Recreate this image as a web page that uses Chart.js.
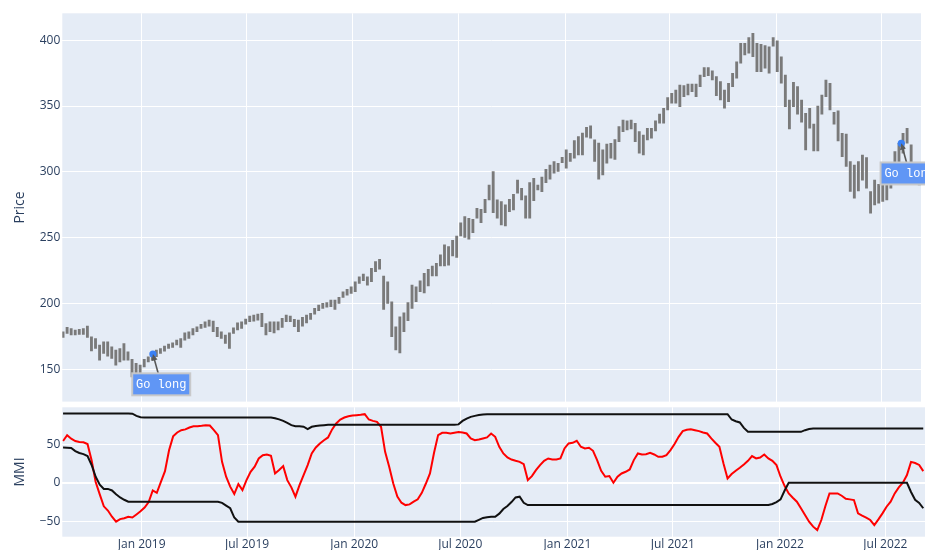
<!DOCTYPE html>
<html><head><meta charset="utf-8">
<script src="https://cdn.jsdelivr.net/npm/chart.js@4.4.1/dist/chart.umd.min.js"></script>
<style>
html,body{margin:0;padding:0;background:#fff;}
#wrap{position:relative;width:925px;height:550px;overflow:hidden;}
canvas{position:absolute;left:0;top:0;}
</style></head><body>
<div id="wrap"><canvas id="topc" width="925" height="550"></canvas><canvas id="botc" width="925" height="550"></canvas></div>
<script>
// ---------------- data ----------------
const firstWeek = '2018-08-19';          // first weekly bar, one bar per week after it
const xRange = ['2018-08-18', '2022-09-07'];
const tickDates = ['2019-01-01','2019-07-01','2020-01-01','2020-07-01','2021-01-01','2021-07-01','2022-01-01','2022-07-01'];
const tickLabels = ['Jan 2019','Jul 2019','Jan 2020','Jul 2020','Jan 2021','Jul 2021','Jan 2022','Jul 2022'];
const priceTicks = [150,200,250,300,350,400];
const mmiTicks = [-50,0,50];

const priceHigh = [
178.4,181.7,180.9,179.7,180.2,180.9,182.7,174.6,173.3,168.3,
170.8,170.8,167.0,164.5,165.7,169.5,163.1,157.4,154.3,153.0,
157.4,159.4,161.9,164.5,165.7,167.5,169.0,170.0,172.0,173.3,
177.6,178.4,180.9,182.2,184.0,186.0,187.3,186.5,181.7,178.4,
175.9,177.6,181.4,185.2,186.0,188.0,190.3,191.0,191.8,192.4,
184.7,186.0,186.0,186.0,188.6,191.0,190.3,187.8,187.3,189.3,
191.0,192.4,196.2,198.7,200.0,200.5,202.5,202.5,204.5,208.8,
210.6,212.6,216.4,220.2,222.3,220.2,226.6,231.7,233.5,220.8,
216.4,201.2,182.2,189.8,192.8,200.5,213.9,212.6,217.2,222.8,
225.9,228.4,230.4,236.8,244.4,243.1,247.9,251.2,261.3,266.0,
264.7,263.9,272.3,271.5,279.1,290.0,300.2,278.6,277.3,274.8,
279.1,282.9,293.8,287.5,281.7,291.8,295.1,290.0,295.9,301.9,
305.2,307.8,306.5,311.0,316.7,314.1,323.7,326.8,329.4,333.9,
334.9,324.3,321.8,316.7,321.0,321.7,324.5,334.3,339.4,338.7,
339.4,336.9,330.5,328.0,333.1,333.1,338.7,343.8,348.3,356.4,
359.7,362.2,366.0,365.5,366.6,366.6,366.6,373.6,379.2,379.2,
376.7,372.3,368.5,362.2,367.3,374.9,383.7,397.7,397.7,402.0,
405.3,397.7,397.0,395.9,395.1,402.0,399.5,387.5,373.6,354.6,
368.0,364.7,354.6,344.5,348.3,336.2,350.0,358.4,369.8,367.3,
345.3,346.3,329.3,328.6,307.7,305.2,307.7,312.8,310.8,285.0,
293.8,290.5,292.5,297.6,306.6,315.4,321.7,329.3,333.1,320.5,
306.0,300.0];
const priceLow = [
174.1,177.1,175.9,175.9,176.4,176.4,174.1,163.9,165.7,156.8,
161.9,159.9,158.1,153.0,155.5,156.8,156.8,144.1,143.0,146.0,
151.7,155.5,156.8,159.4,161.9,163.7,165.7,166.5,168.3,166.5,
172.0,173.3,175.9,178.4,181.0,181.7,182.7,178.4,174.6,173.3,
169.5,165.7,177.1,179.7,181.0,184.2,186.0,186.5,187.3,182.2,
175.9,178.4,177.6,179.7,181.7,186.0,186.0,182.2,178.4,182.7,
185.2,187.8,191.8,194.4,196.2,197.0,197.4,195.4,200.0,204.5,
206.3,207.6,208.8,215.2,217.2,213.9,216.4,224.0,225.9,195.4,
200.0,174.6,164.5,162.4,178.4,186.8,196.2,201.2,208.8,208.0,
213.2,220.8,220.8,228.4,228.4,229.1,236.0,235.0,251.2,250.2,
248.7,253.8,264.7,261.3,268.9,278.6,268.9,264.7,259.6,258.8,
269.7,271.0,283.7,278.6,264.7,264.7,278.1,286.2,284.9,291.8,
294.4,298.9,300.2,307.0,302.7,307.8,310.3,312.9,312.9,326.3,
325.6,307.8,294.4,297.6,306.5,310.3,309.5,323.0,330.5,331.8,
332.6,323.0,314.1,312.8,324.2,325.5,331.1,336.9,336.9,347.0,
352.1,352.1,349.5,357.1,358.4,361.0,357.1,364.7,372.3,373.1,
369.8,357.9,354.6,348.3,353.3,364.7,371.1,382.5,388.8,390.1,
387.5,376.1,376.1,378.7,375.0,395.5,376.1,367.3,349.5,332.6,
349.5,343.8,337.7,316.6,333.1,315.9,315.9,343.8,357.1,347.0,
336.2,323.5,311.5,304.0,285.0,280.0,285.5,293.6,287.6,268.5,
274.9,276.1,277.4,278.7,287.6,296.4,307.7,314.1,321.7,307.7,
296.0,290.0];

const mmi = [
54,61.5,57,54,52.8,52.3,50,29,1,-15,
-30.5,-36,-44,-50.4,-47,-46,-44,-45,-41,-37,
-32,-25,-10,-13,1,15,42,60,65,68,
69,71.5,73,73,73.6,74.5,74,68,61.6,27,
7.8,-5,-14.6,-1.7,-9.5,3.4,14.2,20.7,31.4,35.7,
36.6,35,12,16.4,21.5,3.4,-6,-18,-3,10,
22.8,38,45.6,50.8,55,58.6,69,76.7,81.8,84.4,
86,87,87.4,87.9,88.7,81.8,80,78.8,72.4,40,
20.7,-1,-18,-25.8,-28.9,-28,-24.5,-21.5,-13,-1,
12,38.8,61.6,64.6,64.6,63.7,64.6,65.5,65,63.7,
57.3,55,56,57.3,58.6,63.7,59.4,46.5,37.9,32.7,
30,28.4,27,24,3.4,8.6,16.4,22.8,28.4,31.4,
30,30,31.4,44.4,50.8,51.7,54.3,46.5,44.4,45.2,
41.3,29.3,15.5,7.8,8.6,0,7.8,12,14.2,17.2,
29.3,37.9,36.6,37,38.8,36.6,33.6,33.6,35.7,42.2,
50,59.4,66.8,68.5,69.3,68,66.8,65,63.7,57.3,
51.7,46.5,25,5.6,11.2,15.5,19.4,23.7,28.4,34.5,
31.4,32.7,36.6,31.4,28.4,22.8,7.8,-4.3,-13.8,-19.4,
-24.5,-33,-41.8,-50.4,-56.8,-61.2,-48.2,-30,-13.8,-13.8,
-13.8,-16.8,-20.7,-21.5,-22.4,-39.6,-42.6,-45.2,-48.2,-54.7,
-47.4,-39.6,-31,-24.5,-13.8,-6,0,9.9,27,25.5,
23,15];
const upperBand = [
89.5,89.5,89.5,89.5,89.5,89.5,89.5,89.5,89.5,89.5,
89.5,89.5,89.5,89.5,89.5,89.5,89.5,89.3,86.5,84.8,
84.4,84.4,84.4,84.4,84.4,84.4,84.4,84.4,84.4,84.4,
84.4,84.4,84.4,84.4,84.4,84.4,84.4,84.4,84.4,84.4,
84.4,84.4,84.4,84.4,84.4,84.4,84.4,84.4,84.4,84.4,
84.4,84.4,83.5,82,80,77.5,74.5,73.2,73.2,72.5,
69.5,72.4,73.4,74,74.5,75,75,75,75,75,
75,75,75,75,75,75,75,75,75,75,
75,75,75,75,75,75,75,75,75,75,
75,75,75,75,75,75,75,75.5,80,83,
85.2,86.5,87.5,88.4,88.7,88.7,88.7,88.7,88.7,88.7,
88.7,88.7,88.7,88.7,88.7,88.7,88.7,88.7,88.7,88.7,
88.7,88.7,88.7,88.7,88.7,88.7,88.7,88.7,88.7,88.7,
88.7,88.7,88.7,88.7,88.7,88.7,88.7,88.7,88.7,88.7,
88.7,88.7,88.7,88.7,88.7,88.7,88.7,88.7,88.7,88.7,
88.7,88.7,88.7,88.7,88.7,88.7,88.7,88.7,88.7,88.7,
88.7,88.7,88.7,88.7,81.8,79.5,78,71,65.9,65.9,
65.9,65.9,65.9,65.9,65.9,65.9,65.9,65.9,65.9,65.9,
65.9,65.9,68,69.5,70.2,70.2,70.2,70.2,70.2,70.2,
70.2,70.2,70.2,70.2,70.2,70.2,70.2,70.2,70.2,70.2,
70.2,70.2,70.2,70.2,70.2,70.2,70.2,70.2,70.2,70.2,
70.2,70.2];
const lowerBand = [
45.5,45.4,45,41,38.5,37,34.5,23,7.8,-2.5,
-8,-8,-10,-15,-19,-22,-24.5,-24.5,-24.5,-24.5,
-24.5,-24.5,-24.5,-24.5,-24.5,-24.5,-24.5,-24.5,-24.5,-24.5,
-24.5,-24.5,-24.5,-24.5,-24.5,-24.5,-24.5,-24.5,-24.5,-26,
-29.5,-33,-45,-50.4,-50.4,-50.4,-50.4,-50.4,-50.4,-50.4,
-50.4,-50.4,-50.4,-50.4,-50.4,-50.4,-50.4,-50.4,-50.4,-50.4,
-50.4,-50.4,-50.4,-50.4,-50.4,-50.4,-50.4,-50.4,-50.4,-50.4,
-50.4,-50.4,-50.4,-50.4,-50.4,-50.4,-50.4,-50.4,-50.4,-50.4,
-50.4,-50.4,-50.4,-50.4,-50.4,-50.4,-50.4,-50.4,-50.4,-50.4,
-50.4,-50.4,-50.4,-50.4,-50.4,-50.4,-50.4,-50.4,-50.4,-50.4,
-50.4,-50.4,-48,-45.5,-44.5,-44,-44,-40,-34,-30,
-25,-19,-18,-26,-28.9,-28.9,-28.9,-28.9,-28.9,-28.9,
-28.9,-28.9,-28.9,-28.9,-28.9,-28.9,-28.9,-28.9,-28.9,-28.9,
-28.9,-28.9,-28.9,-28.9,-28.9,-28.9,-28.9,-28.9,-28.9,-28.9,
-28.9,-28.9,-28.9,-28.9,-28.9,-28.9,-28.9,-28.9,-28.9,-28.9,
-28.9,-28.9,-28.9,-28.9,-28.9,-28.9,-28.9,-28.9,-28.9,-28.9,
-28.9,-28.9,-28.9,-28.9,-28.9,-28.9,-28.9,-28.9,-28.9,-28.9,
-28.9,-28.9,-28.9,-28.9,-27.5,-25,-21.5,-10,0,0,
0,0,0,0,0,0,0,0,0,0,
0,0,0,0,0,0,0,0,0,0,
0,0,0,0,0,0,0,0,-12,-22,
-26,-33];

const signalDates = ['2019-01-21','2022-08-04'];
const signalPrices = [161.4, 321.7];
const signalText = ['Go long','Go long'];

// ---------------- helpers ----------------
const DAY = 86400000;
const epoch = Date.parse('2019-01-01T00:00:00Z');
const dayOf = s => (Date.parse(s + 'T00:00:00Z') - epoch) / DAY;
const w0 = dayOf(firstWeek);
const weekX = priceHigh.map((_, i) => w0 + 7 * i);
const tickDays = tickDates.map(dayOf);
const xMin = dayOf(xRange[0]) - 0.3, xMax = dayOf(xRange[1]);

Chart.defaults.font.family = "'Open Sans', verdana, arial, sans-serif";
Chart.defaults.color = '#2a3f5f';

const TXT = '#2a3f5f';
const PLOT_BG = '#E5ECF6';

const bgPlugin = {
  id: 'plotBg',
  beforeDraw(chart) {
    const {ctx, chartArea: a} = chart;
    ctx.save();
    ctx.fillStyle = PLOT_BG;
    ctx.fillRect(a.left, a.top, a.right - a.left, a.bottom - a.top);
    ctx.restore();
  }
};

const annotPlugin = {
  id: 'annot',
  afterDatasetsDraw(chart) {
    const ctx = chart.ctx, xs = chart.scales.x, ys = chart.scales.y;
    signalDates.forEach((d, k) => {
      const px = xs.getPixelForValue(dayOf(d));
      const py = ys.getPixelForValue(signalPrices[k]);
      const ax = 8.3, ay = 30.2, bw = 58, bh = 22;
      const cx = px + ax, cy = py + ay;
      const t = (bh / 2) / ay;
      const sx = cx - ax * t, sy = cy - ay * t;
      const ang = Math.atan2(py - sy, px - sx);
      const hl = 7, hw = 0.45;
      ctx.save();
      ctx.strokeStyle = '#585858';
      ctx.fillStyle = '#585858';
      ctx.lineWidth = 1.6;
      ctx.beginPath();
      ctx.moveTo(sx, sy);
      ctx.lineTo(px - hl * 0.7 * Math.cos(ang), py - hl * 0.7 * Math.sin(ang));
      ctx.stroke();
      ctx.beginPath();
      ctx.moveTo(px, py);
      ctx.lineTo(px - hl * Math.cos(ang - hw), py - hl * Math.sin(ang - hw));
      ctx.lineTo(px - hl * Math.cos(ang + hw), py - hl * Math.sin(ang + hw));
      ctx.closePath();
      ctx.fill();
      ctx.fillStyle = 'rgb(96,150,245)';
      ctx.fillRect(cx - bw / 2, cy - bh / 2, bw, bh);
      ctx.strokeStyle = 'rgba(200,200,200,0.95)';
      ctx.lineWidth = 2;
      ctx.strokeRect(cx - bw / 2, cy - bh / 2, bw, bh);
      ctx.fillStyle = '#ffffff';
      ctx.font = "12px 'Liberation Mono', 'Courier New', monospace";
      ctx.textAlign = 'center';
      ctx.textBaseline = 'middle';
      ctx.fillText(signalText[k], cx, cy + 0.5);
      ctx.restore();
    });
  }
};

const xCommon = (showLabels, h) => ({
  type: 'linear',
  min: xMin, max: xMax,
  offset: false,
  afterBuildTicks: s => { s.ticks = tickDays.map(v => ({value: v})); },
  afterFit: s => { s.height = h; },
  grid: {color: '#ffffff', lineWidth: 1, drawTicks: false, offset: false},
  border: {display: false},
  ticks: {
    display: showLabels, autoSkip: false, maxRotation: 0, minRotation: 0, padding: 1,
    color: TXT, font: {size: 12},
    callback: v => { const k = tickDays.indexOf(v); return k >= 0 ? tickLabels[k] : ''; }
  }
});

// ---------------- top chart: price ----------------
new Chart(document.getElementById('topc'), {
  type: 'bar',
  data: {
    datasets: [
      {
        type: 'scatter',
        data: signalDates.map((d, k) => ({x: dayOf(d), y: signalPrices[k]})),
        pointRadius: 3.6, pointBackgroundColor: 'rgb(58,128,244)', pointBorderWidth: 0
      },
      {
        type: 'bar',
        data: weekX.map((x, i) => ({x: x, y: [priceLow[i], priceHigh[i]]})),
        backgroundColor: '#7a7a7a', borderWidth: 0, barThickness: 2.2, grouped: false
      }
    ]
  },
  options: {
    responsive: false, maintainAspectRatio: false, animation: false, devicePixelRatio: 1, events: [],
    layout: {padding: {top: 13.3, bottom: 148.4, left: 0, right: 0}},
    plugins: {legend: {display: false}, tooltip: {enabled: false}},
    scales: {
      x: xCommon(false, 0),
      y: {
        type: 'linear', min: 125.3, max: 420.5,
        afterBuildTicks: s => { s.ticks = priceTicks.map(v => ({value: v})); },
        afterFit: s => { s.width = 62.3; },
        grid: {color: '#ffffff', lineWidth: 1, drawTicks: false},
        border: {display: false},
        ticks: {padding: 2, color: TXT, font: {size: 12}},
        title: {display: true, text: 'Price', color: TXT, font: {size: 14}, padding: {top: 11.6, bottom: 0}}
      }
    }
  },
  plugins: [bgPlugin, annotPlugin]
});

// ---------------- bottom chart: MMI ----------------
const pts = arr => weekX.map((x, i) => ({x: x, y: arr[i]}));
new Chart(document.getElementById('botc'), {
  type: 'line',
  data: {
    datasets: [
      {data: pts(upperBand), borderColor: '#111111', borderWidth: 2, pointRadius: 0, tension: 0, fill: false},
      {data: pts(lowerBand), borderColor: '#111111', borderWidth: 2, pointRadius: 0, tension: 0, fill: false},
      {data: pts(mmi), borderColor: '#ff0000', borderWidth: 2, pointRadius: 0, tension: 0, fill: false}
    ]
  },
  options: {
    responsive: false, maintainAspectRatio: false, animation: false, devicePixelRatio: 1, events: [],
    layout: {padding: {top: 407.3, bottom: 0, left: 0, right: 0}},
    plugins: {legend: {display: false}, tooltip: {enabled: false}},
    scales: {
      x: xCommon(true, 13.3),
      y: {
        type: 'linear', min: -69.8, max: 97.6,
        afterBuildTicks: s => { s.ticks = mmiTicks.map(v => ({value: v})); },
        afterFit: s => { s.width = 62.3; },
        grid: {color: '#ffffff', lineWidth: c => (c.tick && c.tick.value === 0 ? 2 : 1), drawTicks: false},
        border: {display: false},
        ticks: {padding: 2, color: TXT, font: {size: 12}, callback: v => (v < 0 ? '\u2212' + Math.abs(v) : String(v))},
        title: {display: true, text: 'MMI', color: TXT, font: {size: 14}, padding: {top: 11.6, bottom: 0}}
      }
    }
  },
  plugins: [bgPlugin]
});
</script>
</body></html>
